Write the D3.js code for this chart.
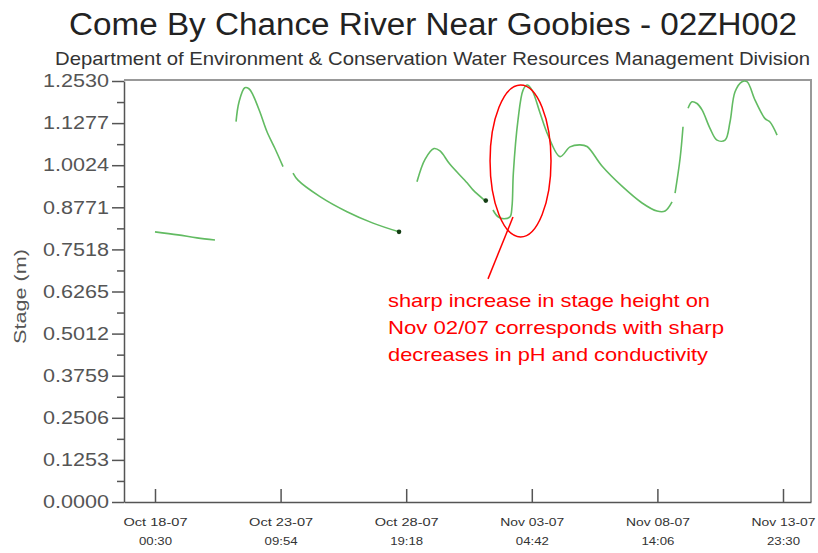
<!DOCTYPE html>
<meta charset="utf-8">
<style>
body { margin: 0; background: #fff; }
svg { font-family: "Liberation Sans", Arial, sans-serif; }
.yax text { fill: #555; font-size: 18px; }
.xax text { fill: #333; font-size: 11.5px; }
.yax path, .yax line, .xax path, .xax line { stroke: #555; stroke-width: 1.5; }
</style>
<svg width="818" height="553"></svg>
<script src="https://cdn.jsdelivr.net/npm/d3@7"></script>
<script>

// stage readings (null = missing record)
var times = [
  "2007-10-18 00:30", "2007-10-19 00:12", "2007-10-19 19:48", "2007-10-20 14:18", "2007-10-21 00:00",
  "2007-10-21 12:00", "2007-10-21 15:00", "2007-10-21 21:00", "2007-10-22 01:18", "2007-10-22 05:30",
  "2007-10-22 12:42", "2007-10-22 19:54", "2007-10-23 04:06", "2007-10-23 12:24", "2007-10-23 17:00",
  "2007-10-23 22:42", "2007-10-24 03:48", "2007-10-25 02:30", "2007-10-26 06:18", "2007-10-27 09:06",
  "2007-10-28 11:54", "2007-10-28 20:00", "2007-10-29 06:24", "2007-10-29 14:42", "2007-10-30 00:00",
  "2007-10-30 06:06", "2007-10-30 16:24", "2007-10-31 10:00", "2007-10-31 16:06", "2007-11-01 04:30",
  "2007-11-01 08:00", "2007-11-01 12:42", "2007-11-01 17:54", "2007-11-02 00:06", "2007-11-02 06:18",
  "2007-11-02 08:18", "2007-11-02 09:42", "2007-11-02 14:30", "2007-11-02 19:42", "2007-11-02 23:48",
  "2007-11-03 04:54", "2007-11-03 13:12", "2007-11-03 21:24", "2007-11-04 09:48", "2007-11-04 20:06",
  "2007-11-05 06:24", "2007-11-05 13:36", "2007-11-06 05:00", "2007-11-07 01:36", "2007-11-07 22:18",
  "2007-11-08 13:42", "2007-11-08 22:00", "2007-11-09 05:12", "2007-11-09 06:45", "2007-11-09 08:18",
  "2007-11-09 13:30", "2007-11-09 16:30", "2007-11-09 19:00", "2007-11-09 21:42", "2007-11-10 01:48",
  "2007-11-10 06:54", "2007-11-10 12:06", "2007-11-10 20:18", "2007-11-11 03:30", "2007-11-11 11:48",
  "2007-11-11 16:54", "2007-11-11 22:06", "2007-11-12 05:18", "2007-11-12 10:24", "2007-11-12 18:42",
  "2007-11-13 05:00", "2007-11-13 10:06", "2007-11-13 17:24"
];
var stage = [
  0.804, 0.795, 0.786, 0.780, null,
  1.132, 1.190, 1.233, 1.230, 1.211,
  1.160, 1.102, 1.052, 0.998, null,
  0.979, 0.958, 0.909, 0.864, 0.830,
  0.804, null, 0.953, 1.020, 1.052,
  1.045, 1.005, 0.950, 0.929, 0.897,
  null, 0.869, 0.849, 0.843, 0.849,
  0.879, 0.979, 1.137, 1.226, 1.241,
  1.226, 1.158, 1.092, 1.028, 1.057,
  1.063, 1.058, 1.000, 0.940, 0.890,
  0.866, 0.866, 0.893, null, 0.919,
  1.023, 1.117, null, 1.172, 1.191,
  1.186, 1.167, 1.112, 1.077, 1.077,
  1.131, 1.221, 1.251, 1.251, 1.196,
  1.141, 1.131, 1.092
];

// single dark points
var markTimes = ["2007-10-28 11:54", "2007-11-01 05:18"];
var markValues = [0.804, 0.897];

var yTicks = d3.range(0, 11).map(function(k) { return +(k * 0.1253).toFixed(4); });
var yMinor = d3.range(0, 10).map(function(k) { return (k + 0.5) * 0.1253; });
var xTicks = ["2007-10-18 00:30", "2007-10-23 09:54", "2007-10-28 19:18",
              "2007-11-03 04:42", "2007-11-08 14:06", "2007-11-13 23:30"];
var xDomain = ["2007-10-16 16:34", "2007-11-15 04:21"];

var title = "Come By Chance River Near Goobies - 02ZH002";
var subtitle = "Department of Environment & Conservation Water Resources Management Division";
var yLabel = "Stage (m)";

// annotation: circled period and note
var ringTimes = ["2007-11-01 09:42", "2007-11-04 00:30"];
var ringValues = [0.789, 1.241];
var pointerTimes = ["2007-11-02 09:18", "2007-11-01 07:36"];
var pointerValues = [0.848, 0.664];
var noteLines = ["sharp increase in stage height on",
                 "Nov 02/07 corresponds with sharp",
                 "decreases in pH and conductivity"];

var svg = d3.select("svg");
var parse = d3.timeParse("%Y-%m-%d %H:%M");

var plotLeft = 124, plotRight = 811, plotTop = 81, plotBottom = 502;

var x = d3.scaleTime()
    .domain(xDomain.map(parse))
    .range([plotLeft, plotRight]);

var y = d3.scaleLinear()
    .domain([0, 1.253])
    .range([plotBottom, plotTop]);

// titles
svg.append("text")
    .attr("x", 69).attr("y", 35)
    .attr("font-size", 31).attr("fill", "#222")
    .attr("textLength", 728).attr("lengthAdjust", "spacingAndGlyphs")
    .text(title);

svg.append("text")
    .attr("x", 55).attr("y", 65)
    .attr("font-size", 19).attr("fill", "#333")
    .attr("textLength", 755).attr("lengthAdjust", "spacingAndGlyphs")
    .text(subtitle);

// frame (top / right)
svg.append("path")
    .attr("d", "M" + plotLeft + "," + (plotTop - 1) + "H" + plotRight + "V" + plotBottom)
    .attr("fill", "none")
    .attr("stroke", "#999")
    .attr("stroke-width", 2);

// y axis
var yAxis = svg.append("g")
    .attr("class", "yax")
    .attr("transform", "translate(" + plotLeft + ",0)")
    .call(d3.axisLeft(y)
      .tickValues(yTicks)
      .tickSizeInner(12)
      .tickSizeOuter(0)
      .tickPadding(3)
      .tickFormat(d3.format(".4f")));
yAxis.selectAll("text")
    .attr("textLength", 66).attr("lengthAdjust", "spacingAndGlyphs");

svg.append("g")
    .attr("class", "yax")
    .attr("transform", "translate(" + plotLeft + ",0)")
    .call(d3.axisLeft(y).tickValues(yMinor).tickSize(7).tickFormat(""))
  .select(".domain").remove();

svg.append("text")
    .attr("transform", "translate(26," + ((plotTop + plotBottom) / 2 + 5) + ") rotate(-90)")
    .attr("text-anchor", "middle")
    .attr("font-size", 17).attr("fill", "#555")
    .attr("textLength", 95).attr("lengthAdjust", "spacingAndGlyphs")
    .text(yLabel);

// x axis, ticks pointing inward, two-line labels
var fmtDay = d3.timeFormat("%b %d-%y"), fmtTime = d3.timeFormat("%H:%M");
var xAxis = svg.append("g")
    .attr("class", "xax")
    .attr("transform", "translate(0," + plotBottom + ")")
    .call(d3.axisBottom(x)
      .tickValues(xTicks.map(parse))
      .tickSizeInner(-13)
      .tickSizeOuter(0)
      .tickFormat(""));

xAxis.selectAll(".tick").each(function(d) {
  var t = d3.select(this).select("text");
  t.attr("y", 0).attr("dy", null);
  t.append("tspan").attr("x", 0).attr("y", 24)
      .attr("textLength", 64).attr("lengthAdjust", "spacingAndGlyphs")
      .text(fmtDay(d));
  t.append("tspan").attr("x", 0).attr("y", 43)
      .attr("textLength", 33).attr("lengthAdjust", "spacingAndGlyphs")
      .text(fmtTime(d));
});

// stage series
var data = times.map(function(t, i) { return {t: parse(t), v: stage[i]}; });

var line = d3.line()
    .defined(function(d) { return d.v != null; })
    .curve(d3.curveCatmullRom.alpha(0.5))
    .x(function(d) { return x(d.t); })
    .y(function(d) { return y(d.v); });

svg.append("path")
    .datum(data)
    .attr("fill", "none")
    .attr("stroke", "#62bb62")
    .attr("stroke-width", 1.6)
    .attr("stroke-linejoin", "round")
    .attr("d", line);

svg.selectAll(".mark")
    .data(markTimes)
  .enter().append("circle")
    .attr("class", "mark")
    .attr("cx", function(d) { return x(parse(d)); })
    .attr("cy", function(d, i) { return y(markValues[i]); })
    .attr("r", 2.3)
    .attr("fill", "#143d14");

// annotation
var rx0 = x(parse(ringTimes[0])), rx1 = x(parse(ringTimes[1]));
var ry0 = y(ringValues[0]), ry1 = y(ringValues[1]);
svg.append("ellipse")
    .attr("cx", (rx0 + rx1) / 2)
    .attr("cy", (ry0 + ry1) / 2)
    .attr("rx", (rx1 - rx0) / 2)
    .attr("ry", (ry0 - ry1) / 2)
    .attr("fill", "none")
    .attr("stroke", "#ff0000")
    .attr("stroke-width", 1.5);

svg.append("line")
    .attr("x1", x(parse(pointerTimes[0])))
    .attr("y1", y(pointerValues[0]))
    .attr("x2", x(parse(pointerTimes[1])))
    .attr("y2", y(pointerValues[1]))
    .attr("stroke", "#ff0000")
    .attr("stroke-width", 1.5);

var noteWidths = [322, 336, 320];
svg.selectAll(".note")
    .data(noteLines)
  .enter().append("text")
    .attr("class", "note")
    .attr("x", 388)
    .attr("y", function(d, i) { return 307 + i * 27; })
    .attr("font-size", 18.5)
    .attr("fill", "#ff0000")
    .attr("textLength", function(d, i) { return noteWidths[i]; })
    .attr("lengthAdjust", "spacingAndGlyphs")
    .text(function(d) { return d; });

</script>
